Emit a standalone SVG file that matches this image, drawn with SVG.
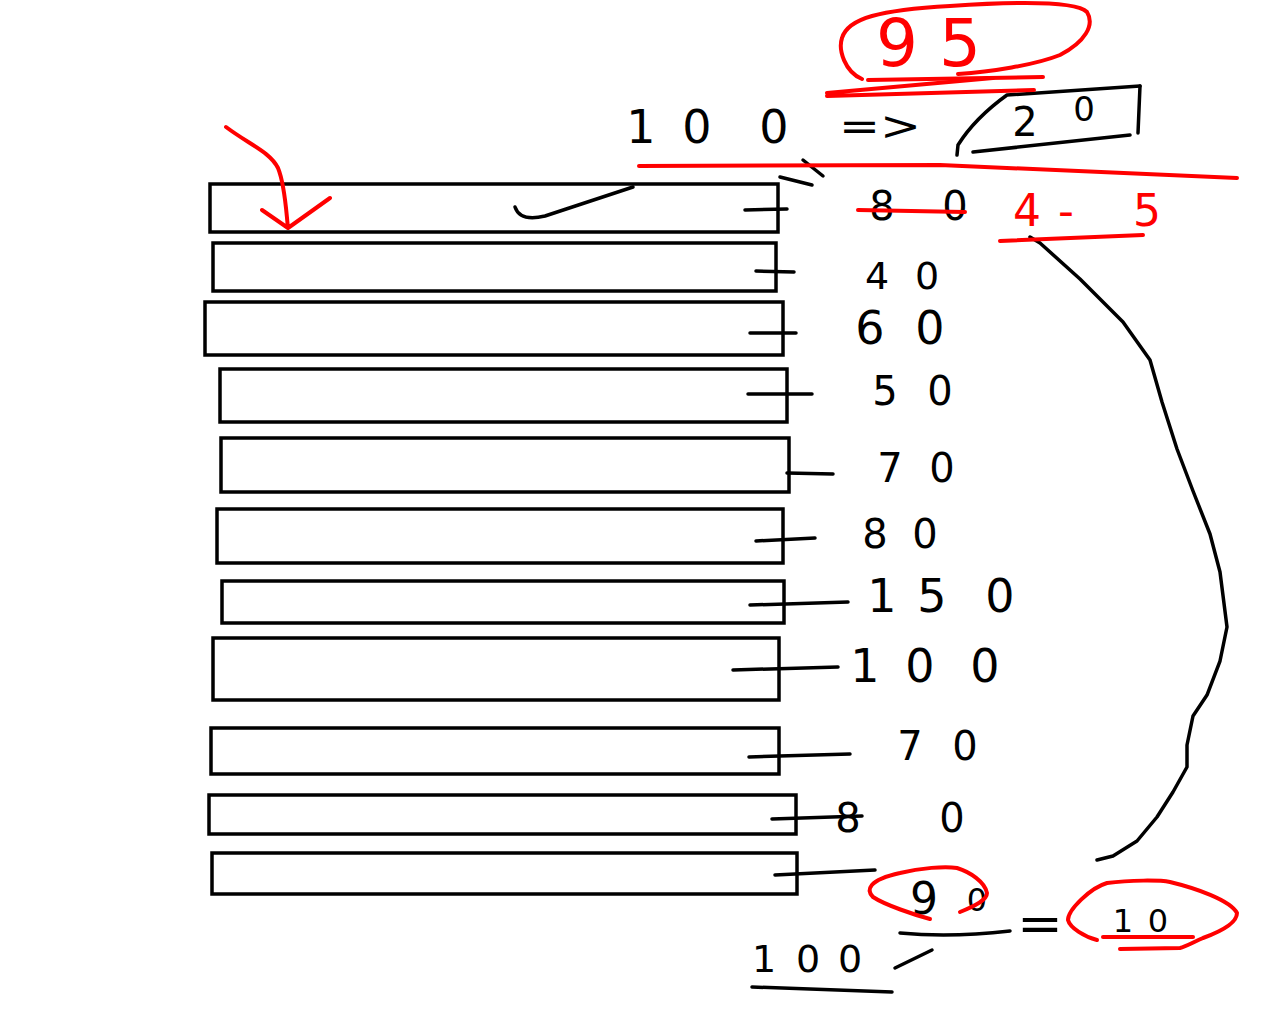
<svg xmlns="http://www.w3.org/2000/svg" width="1280" height="1024" viewBox="0 0 1280 1024">
<style>
.box{fill:none;stroke:#000;stroke-width:3.5}
.k{fill:none;stroke:#000;stroke-width:3.5;stroke-linecap:round;stroke-linejoin:round}
.r{fill:none;stroke:#f00;stroke-width:4;stroke-linecap:round;stroke-linejoin:round}
.t{font-family:"DejaVu Sans","Liberation Sans",sans-serif;fill:#000;text-anchor:middle}
.tr{font-family:"DejaVu Sans","Liberation Sans",sans-serif;fill:#f00;text-anchor:middle}
</style>
<rect width="1280" height="1024" fill="#fff"/>
<g id="nodes">
<g id="bar1"><rect class="box" x="210" y="184" width="568" height="48"/></g>
<g id="bar2"><rect class="box" x="213" y="243" width="563" height="48"/></g>
<g id="bar3"><rect class="box" x="205" y="302" width="578" height="53"/></g>
<g id="bar4"><rect class="box" x="220" y="369" width="567" height="53"/></g>
<g id="bar5"><rect class="box" x="221" y="438" width="568" height="54"/></g>
<g id="bar6"><rect class="box" x="217" y="509" width="566" height="54"/></g>
<g id="bar7"><rect class="box" x="222" y="581" width="562" height="42"/></g>
<g id="bar8"><rect class="box" x="213" y="638" width="566" height="62"/></g>
<g id="bar9"><rect class="box" x="211" y="728" width="568" height="46"/></g>
<g id="bar10"><rect class="box" x="209" y="795" width="587" height="39"/></g>
<g id="bar11"><rect class="box" x="212" y="853" width="585" height="41"/></g>
</g>
<g id="connectors">
<path class="k" d="M745,210 L787,209"/>
<path class="k" d="M756,271 L794,272"/>
<path class="k" d="M750,333 L796,333"/>
<path class="k" d="M748,394 L812,394"/>
<path class="k" d="M787,473 L833,474"/>
<path class="k" d="M756,541 L815,538"/>
<path class="k" d="M750,605 L848,602"/>
<path class="k" d="M733,670 L838,667"/>
<path class="k" d="M749,757 L850,754"/>
<path class="k" d="M772,819 L862,816"/>
<path class="k" d="M775,875 L875,870"/>
<path class="k" d="M1030,237 L1040,243 L1080,279 L1123,322 L1150,360 L1162,402 L1177,449 L1193,491 L1210,534 L1220,572 L1227,627 L1220,661 L1207,695 L1193,716 L1187,745 L1187,767 L1173,792 L1157,817 L1137,841 L1113,856 L1097,860"/>
</g>
<g id="labels">
<text class="t" font-size="40" x="882 955" y="220">80</text>
<text class="t" font-size="38" x="877 927" y="289">40</text>
<text class="t" font-size="46" x="870 930" y="344">60</text>
<text class="t" font-size="40" x="885 940" y="405">50</text>
<text class="t" font-size="40" x="890 942" y="482">70</text>
<text class="t" font-size="40" x="875 925" y="548">80</text>
<text class="t" font-size="46" x="882 932 1000" y="612">150</text>
<text class="t" font-size="46" x="865 920 985" y="682">100</text>
<text class="t" font-size="40" x="910 965" y="760">70</text>
<text class="t" font-size="40" x="848 952" y="832">80</text>
<text class="t" font-size="44" x="924" y="914">9<tspan x="977" y="911" font-size="32">0</tspan></text>
<text class="t" font-size="46" x="641 697 774" y="143">100</text>
<text class="t" font-size="40" x="880" y="140" textLength="82" lengthAdjust="spacingAndGlyphs" text-anchor="start">=&gt;</text>
<text class="t" font-size="40" x="1025" y="136">2<tspan x="1084" y="121" font-size="34">0</tspan></text>
<text class="tr" font-size="66" x="897 960" y="66">95</text>
<text class="tr" font-size="44" x="1027 1066 1140" y="226">4- 5</text>
<text class="t" font-size="50" x="1040" y="941" textLength="46" lengthAdjust="spacingAndGlyphs" text-anchor="start">=</text>
<text class="t" font-size="32" x="1123 1158" y="932">10</text>
<text class="t" font-size="38" x="764 808 850" y="972">100</text>
</g>
<g id="marks">
<path class="k" d="M1140,86 L1007,95 Q975,118 958,145 L957,155"/>
<path class="k" d="M1140,86 L1138,133"/>
<path class="k" d="M973,152 L1130,135"/>
<path class="k" d="M515,207 Q520,222 545,216 L633,187"/>
<path class="k" d="M780,177 L812,185 M803,160 L823,176"/>
<path class="k" d="M900,933 Q950,938 1010,931"/>
<path class="k" d="M895,968 L932,950"/>
<path class="k" d="M752,987 L892,992"/>
<path class="r" d="M862,79 C845,72 838,50 842,38 C848,18 880,10 950,6 C1010,2 1075,0 1087,12 C1095,25 1085,42 1060,55 C1035,65 990,72 958,74"/>
<path class="r" d="M868,80 L1043,77"/>
<path class="r" d="M827,96 L1034,90 M827,93 L993,78" stroke-width="5"/>
<path class="r" d="M639,166 L940,165 L1237,178"/>
<path class="r" d="M858,210 L965,212"/>
<path class="r" d="M1000,241 L1143,235"/>
<path class="r" d="M226,127 C250,145 270,152 278,168 C285,185 286,210 288,228 M262,210 L288,228 L330,198"/>
<path class="r" d="M930,919 C915,915 885,905 873,897 C866,890 868,880 900,873 C920,868 945,866 957,868 C970,872 985,882 987,893 C987,900 975,906 960,912"/>
<path class="r" d="M1097,940 C1085,937 1070,928 1068,920 C1068,910 1090,888 1107,883 C1130,880 1160,880 1170,882 C1195,888 1230,900 1237,913 C1237,922 1225,930 1203,938 C1192,943 1185,947 1180,948 L1120,949"/>
<path class="r" d="M1103,937 L1193,937"/>
</g>
</svg>
